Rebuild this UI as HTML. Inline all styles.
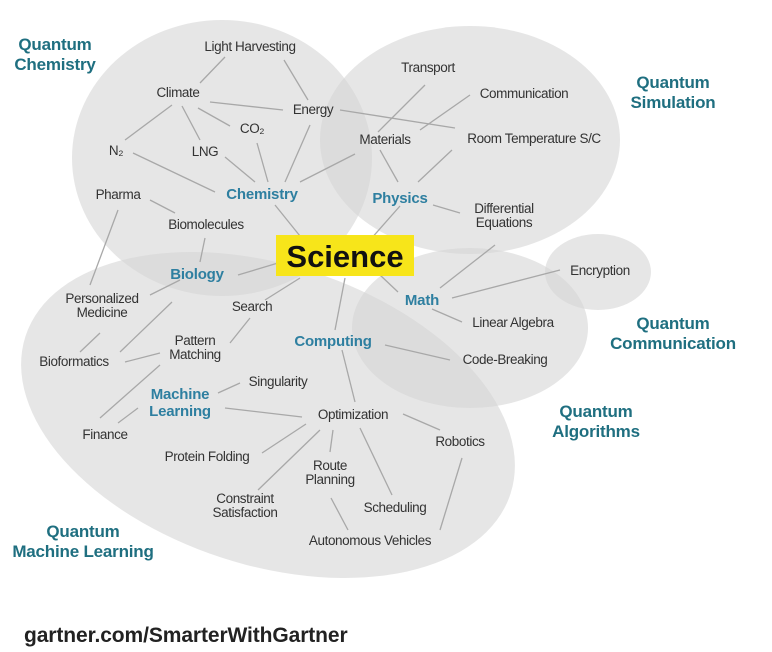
<!DOCTYPE html>
<html><head><meta charset="utf-8"><style>
html,body{margin:0;padding:0;background:#fff;}
svg{display:block;}
text{font-family:"Liberation Sans",sans-serif;}
.n{font-size:13.5px;fill:#333;letter-spacing:-0.4px;}
.b{font-size:15px;fill:#2e7fa0;font-weight:bold;letter-spacing:-0.2px;}
.q{font-size:17px;fill:#1f6f80;font-weight:bold;letter-spacing:-0.2px;}
line{stroke:#a8a8a8;stroke-width:1.3;}
</style></head><body>
<svg width="772" height="652" viewBox="0 0 772 652">
<g fill="#d6d6d6" fill-opacity="0.6">
<ellipse cx="222" cy="158" rx="150" ry="138"/>
<ellipse cx="470" cy="140" rx="150" ry="114"/>
<ellipse cx="268" cy="415" rx="255" ry="150" transform="rotate(18 268 415)"/>
<ellipse cx="470" cy="328" rx="118" ry="80"/>
<ellipse cx="598" cy="272" rx="53" ry="38"/>
</g>
<g>
<line x1="225" y1="57" x2="200" y2="83"/><line x1="284" y1="60" x2="308" y2="100"/>
<line x1="210" y1="102" x2="283" y2="110"/><line x1="172" y1="105" x2="125" y2="140"/>
<line x1="182" y1="106" x2="200" y2="140"/><line x1="198" y1="108" x2="230" y2="126"/>
<line x1="133" y1="153" x2="215" y2="192"/><line x1="225" y1="157" x2="255" y2="182"/>
<line x1="257" y1="143" x2="268" y2="182"/><line x1="310" y1="125" x2="285" y2="182"/>
<line x1="300" y1="182" x2="355" y2="154"/><line x1="275" y1="205" x2="300" y2="236"/>
<line x1="150" y1="200" x2="175" y2="213"/><line x1="205" y1="238" x2="200" y2="262"/>
<line x1="118" y1="210" x2="90" y2="285"/><line x1="238" y1="275" x2="278" y2="263"/>
<line x1="180" y1="280" x2="150" y2="295"/><line x1="340" y1="110" x2="455" y2="128"/>
<line x1="425" y1="85" x2="378" y2="132"/><line x1="470" y1="95" x2="420" y2="130"/>
<line x1="380" y1="150" x2="398" y2="182"/><line x1="452" y1="150" x2="418" y2="182"/>
<line x1="400" y1="206" x2="370" y2="240"/><line x1="433" y1="205" x2="460" y2="213"/>
<line x1="495" y1="245" x2="440" y2="288"/><line x1="452" y1="298" x2="560" y2="270"/>
<line x1="432" y1="309" x2="462" y2="322"/><line x1="380" y1="275" x2="398" y2="292"/>
<line x1="345" y1="278" x2="335" y2="330"/><line x1="300" y1="278" x2="265" y2="300"/>
<line x1="250" y1="318" x2="230" y2="343"/><line x1="385" y1="345" x2="450" y2="360"/>
<line x1="160" y1="353" x2="125" y2="362"/><line x1="160" y1="365" x2="100" y2="418"/>
<line x1="100" y1="333" x2="80" y2="352"/><line x1="172" y1="302" x2="120" y2="352"/>
<line x1="218" y1="393" x2="240" y2="383"/><line x1="138" y1="408" x2="118" y2="423"/>
<line x1="225" y1="408" x2="302" y2="417"/><line x1="342" y1="350" x2="355" y2="402"/>
<line x1="403" y1="414" x2="440" y2="430"/><line x1="306" y1="424" x2="262" y2="453"/>
<line x1="320" y1="430" x2="258" y2="490"/><line x1="333" y1="430" x2="330" y2="452"/>
<line x1="360" y1="428" x2="392" y2="495"/><line x1="331" y1="498" x2="348" y2="530"/>
<line x1="462" y1="458" x2="440" y2="530"/>
</g>
<rect x="276" y="235" width="138" height="41" fill="#f7e51a"/>
<text x="345" y="267" text-anchor="middle" font-size="31" font-weight="bold" fill="#111">Science</text>
<g class="n">
<text x="250" y="51" text-anchor="middle">Light Harvesting</text>
<text x="178" y="97" text-anchor="middle">Climate</text>
<text x="313" y="114" text-anchor="middle">Energy</text>
<text x="252" y="133" text-anchor="middle">CO₂</text>
<text x="116" y="155" text-anchor="middle">N₂</text>
<text x="205" y="156" text-anchor="middle">LNG</text>
<text x="118" y="199" text-anchor="middle">Pharma</text>
<text x="206" y="229" text-anchor="middle">Biomolecules</text>
<text x="428" y="72" text-anchor="middle">Transport</text>
<text x="524" y="98" text-anchor="middle">Communication</text>
<text x="385" y="144" text-anchor="middle">Materials</text>
<text x="534" y="143" text-anchor="middle">Room Temperature S/C</text>
<text x="504" y="213" text-anchor="middle">Differential</text>
<text x="504" y="227" text-anchor="middle">Equations</text>
<text x="600" y="275" text-anchor="middle">Encryption</text>
<text x="513" y="327" text-anchor="middle">Linear Algebra</text>
<text x="505" y="364" text-anchor="middle">Code-Breaking</text>
<text x="252" y="311" text-anchor="middle">Search</text>
<text x="102" y="303" text-anchor="middle">Personalized</text>
<text x="102" y="317" text-anchor="middle">Medicine</text>
<text x="195" y="345" text-anchor="middle">Pattern</text>
<text x="195" y="359" text-anchor="middle">Matching</text>
<text x="74" y="366" text-anchor="middle">Bioformatics</text>
<text x="278" y="386" text-anchor="middle">Singularity</text>
<text x="353" y="419" text-anchor="middle">Optimization</text>
<text x="105" y="439" text-anchor="middle">Finance</text>
<text x="207" y="461" text-anchor="middle">Protein Folding</text>
<text x="460" y="446" text-anchor="middle">Robotics</text>
<text x="330" y="470" text-anchor="middle">Route</text>
<text x="330" y="484" text-anchor="middle">Planning</text>
<text x="245" y="503" text-anchor="middle">Constraint</text>
<text x="245" y="517" text-anchor="middle">Satisfaction</text>
<text x="395" y="512" text-anchor="middle">Scheduling</text>
<text x="370" y="545" text-anchor="middle">Autonomous Vehicles</text>
</g>
<g class="b">
<text x="262" y="199" text-anchor="middle">Chemistry</text>
<text x="400" y="203" text-anchor="middle">Physics</text>
<text x="197" y="279" text-anchor="middle">Biology</text>
<text x="422" y="305" text-anchor="middle">Math</text>
<text x="333" y="346" text-anchor="middle">Computing</text>
<text x="180" y="399" text-anchor="middle">Machine</text>
<text x="180" y="416" text-anchor="middle">Learning</text>
</g>
<g class="q">
<text x="55" y="50" text-anchor="middle">Quantum</text>
<text x="55" y="70" text-anchor="middle">Chemistry</text>
<text x="673" y="88" text-anchor="middle">Quantum</text>
<text x="673" y="108" text-anchor="middle">Simulation</text>
<text x="673" y="329" text-anchor="middle">Quantum</text>
<text x="673" y="349" text-anchor="middle">Communication</text>
<text x="596" y="417" text-anchor="middle">Quantum</text>
<text x="596" y="437" text-anchor="middle">Algorithms</text>
<text x="83" y="537" text-anchor="middle">Quantum</text>
<text x="83" y="557" text-anchor="middle">Machine Learning</text>
</g>
<text x="24" y="642" font-size="21" font-weight="bold" fill="#222" letter-spacing="-0.1">gartner.com/SmarterWithGartner</text>
</svg>
</body></html>
